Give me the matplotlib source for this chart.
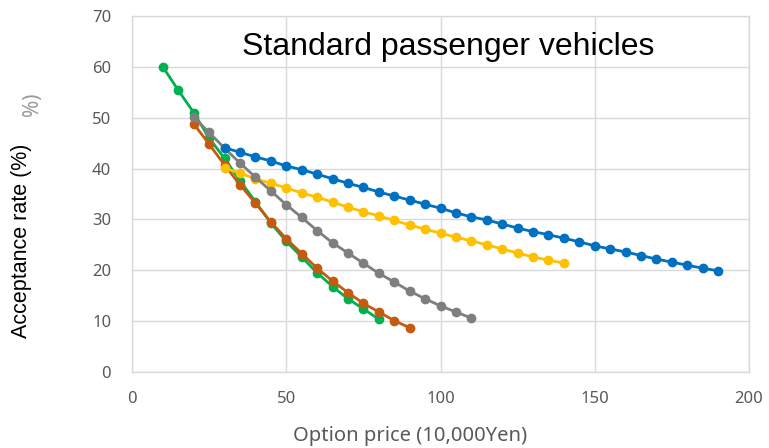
import matplotlib
matplotlib.use("Agg")
import matplotlib.pyplot as plt

# Data
blue_x = list(range(30, 195, 5))
blue_y = [44.1, 43.2, 42.3, 41.5, 40.5, 39.8, 38.9, 38.0, 37.1, 36.3, 35.4, 34.6, 33.8,
          33.0, 32.2, 31.3, 30.5, 29.9, 29.1, 28.3, 27.6, 27.0, 26.3, 25.6, 24.8, 24.2,
          23.6, 22.9, 22.2, 21.6, 21.0, 20.4, 19.9]
yellow_x = list(range(30, 145, 5))
yellow_y = [40.1, 39.1, 38.0, 37.1, 36.2, 35.2, 34.4, 33.4, 32.4, 31.5, 30.7, 29.8, 28.9,
            28.1, 27.3, 26.5, 25.8, 25.0, 24.2, 23.4, 22.6, 22.0, 21.4]
gray_x = list(range(20, 115, 5))
gray_y = [50.1, 47.1, 44.0, 41.1, 38.3, 35.6, 32.9, 30.4, 27.8, 25.4, 23.4, 21.4, 19.4,
          17.7, 15.9, 14.4, 13.0, 11.8, 10.6]
orange_x = list(range(20, 95, 5))
orange_y = [48.8, 44.8, 40.7, 36.8, 33.2, 29.5, 26.2, 23.3, 20.4, 17.9, 15.6, 13.5, 11.8,
            10.1, 8.7]
green_x = list(range(10, 85, 5))
green_y = [60.0, 55.4, 51.0, 46.0, 42.0, 37.6, 33.5, 29.3, 25.7, 22.6, 19.5, 16.8, 14.4,
           12.4, 10.4]

x_ticks = [0, 50, 100, 150, 200]
y_ticks = [0, 10, 20, 30, 40, 50, 60, 70]

title = "Standard passenger vehicles"
xlabel = "Option price (10,000Yen)"
ylabel = "Acceptance rate (%)"

W, H = 769, 448
fig = plt.figure(figsize=(W/100, H/100), dpi=100)
ax = fig.add_axes([132/W, 1-372/H, (749-132)/W, (372-16)/H])

series = [
    (green_x, green_y, "#00B050"),
    (orange_x, orange_y, "#C55A11"),
    (yellow_x, yellow_y, "#FFC000"),
    (gray_x, gray_y, "#7F7F7F"),
    (blue_x, blue_y, "#0070C0"),
]
for xs, ys, c in series:
    ax.plot(xs, ys, color=c, lw=2.0, marker="o", ms=6, mec=c, mfc=c, zorder=3)

ax.set_xlim(0, 200)
ax.set_ylim(0, 70)
ax.set_xticks(x_ticks)
ax.set_yticks(y_ticks)
ax.grid(True, color="#D9D9D9", lw=1.0, zorder=0)
for s in ax.spines.values():
    s.set_color("#D9D9D9")
    s.set_linewidth(1.0)
ax.tick_params(axis="x", length=0, labelsize=12, labelcolor="#595959", pad=14)
ax.tick_params(axis="y", length=0, labelsize=12, labelcolor="#595959", pad=15)
for lab in ax.get_xticklabels() + ax.get_yticklabels():
    lab.set_fontfamily("Noto Sans")

fig.text(448/W, 1-55/H, title, ha="center", va="baseline",
         fontsize=23, family="Liberation Sans", color="black")
fig.text(410/W, 1-436/H, xlabel, ha="center", va="center",
         fontsize=14.5, color="#595959", family="Noto Sans")
fig.text(22/W, 1-241/H, ylabel, rotation=90, ha="center", va="center",
         fontsize=15.5, family="Liberation Sans", color="black")
fig.text(32/W, 1-104/H, "%)", rotation=90, ha="center", va="center",
         fontsize=15, family="Noto Sans", color="#9A9A9A")

fig.savefig("out.png", dpi=100)
